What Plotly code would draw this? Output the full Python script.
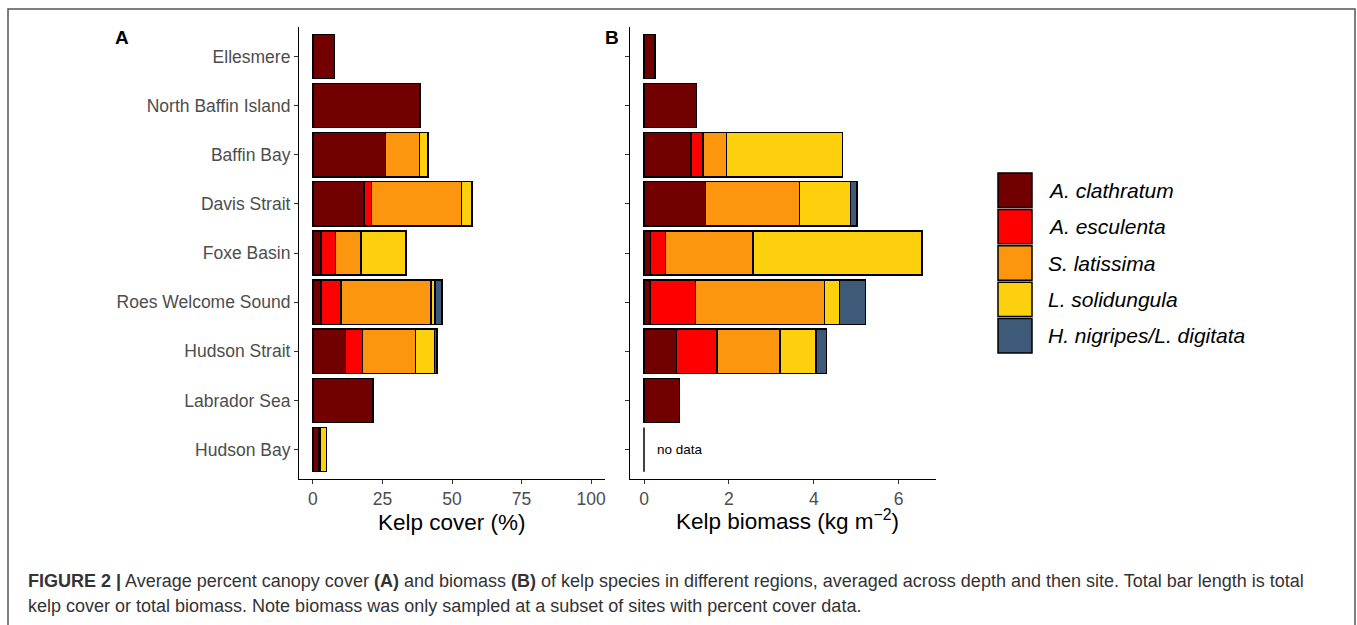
import plotly.graph_objects as go

regions = ["Ellesmere", "North Baffin Island", "Baffin Bay", "Davis Strait", "Foxe Basin",
           "Roes Welcome Sound", "Hudson Strait", "Labrador Sea", "Hudson Bay"]
species = ["A. clathratum", "A. esculenta", "S. latissima", "L. solidungula", "H. nigripes/L. digitata"]
colors = ["#730000", "#FF0000", "#FD960F", "#FDD00D", "#3D5B78"]

# Panel A: percent cover
cover_clathratum = [7.8, 38.5, 26.0, 18.3, 2.9, 2.9, 11.7, 21.6, 2.2]
cover_esculenta = [0, 0, 0, 2.7, 5.3, 7.2, 6.2, 0, 0]
cover_latissima = [0, 0, 12.3, 32.4, 9.1, 32.4, 18.9, 0, 0.4]
cover_solidungula = [0, 0, 3.1, 3.8, 16.2, 1.4, 6.8, 0, 2.2]
cover_digitata = [0, 0, 0, 0, 0, 2.5, 1.0, 0, 0]

# Panel B: biomass (kg m-2); Hudson Bay has no data
bio_clathratum = [0.26, 1.23, 1.11, 1.45, 0.15, 0.14, 0.77, 0.84, None]
bio_esculenta = [0, 0, 0.28, 0, 0.36, 1.08, 0.95, 0, None]
bio_latissima = [0, 0, 0.56, 2.21, 2.06, 3.03, 1.48, 0, None]
bio_solidungula = [0, 0, 2.73, 1.20, 3.98, 0.36, 0.85, 0, None]
bio_digitata = [0, 0, 0, 0.16, 0, 0.61, 0.25, 0, None]

cover = [cover_clathratum, cover_esculenta, cover_latissima, cover_solidungula, cover_digitata]
bio = [bio_clathratum, bio_esculenta, bio_latissima, bio_solidungula, bio_digitata]

W, H = 1357, 625
def px(x):
    return x / W
def py(y):
    return 1 - y / H

FONT = "Liberation Sans, Arial, sans-serif"
ypos = list(range(len(regions)))
BAR_W = 0.9

fig = go.Figure()

def clean(v):
    return [None if (a is None or a == 0) else a for a in v]

for i, sp in enumerate(species):
    fig.add_trace(go.Bar(y=ypos, x=clean(cover[i]), orientation="h", name=sp,
                         marker=dict(color=colors[i], line=dict(color="black", width=1.4)),
                         width=BAR_W, xaxis="x", yaxis="y", showlegend=False))
    fig.add_trace(go.Bar(y=ypos, x=clean(bio[i]), orientation="h", name=sp,
                         marker=dict(color=colors[i], line=dict(color="black", width=1.4)),
                         width=BAR_W, xaxis="x2", yaxis="y2", showlegend=False))

# no-data marker for Hudson Bay (zero-length bar outline)
nd = regions.index("Hudson Bay")
fig.add_trace(go.Scatter(x=[0, 0], y=[nd - BAR_W / 2, nd + BAR_W / 2], mode="lines",
                         line=dict(color="black", width=1.5), xaxis="x2", yaxis="y2",
                         showlegend=False, hoverinfo="skip"))

yrange = [len(regions) - 1 + 0.6, -0.6]
axis_common = dict(showline=True, linecolor="black", linewidth=1.2, ticks="outside",
                   ticklen=4, tickcolor="#333333", tickwidth=1.1, showgrid=False, zeroline=False,
                   tickfont=dict(family=FONT, size=17.5, color="#4D4D4D"))

fig.update_layout(
    width=W, height=H, margin=dict(l=0, r=0, t=0, b=0),
    paper_bgcolor="white", plot_bgcolor="white",
    barmode="stack",
    xaxis=dict(domain=[px(299), px(605)], range=[-5, 105], tickvals=[0, 25, 50, 75, 100],
               anchor="y", **axis_common),
    yaxis=dict(domain=[py(479), py(27)], range=yrange, tickvals=ypos, ticktext=regions,
               anchor="x", **axis_common),
    xaxis2=dict(domain=[px(630), px(936)], range=[-0.33, 6.88], tickvals=[0, 2, 4, 6],
                anchor="y2", **axis_common),
    yaxis2=dict(domain=[py(479), py(27)], range=yrange, tickvals=ypos, showticklabels=False,
                anchor="x2", **axis_common),
)

annotations = [
    dict(text="<b>A</b>", x=px(122), y=py(38), font=dict(family=FONT, size=19, color="black")),
    dict(text="<b>B</b>", x=px(612), y=py(38), font=dict(family=FONT, size=19, color="black")),
    dict(text="Kelp cover (%)", x=px(452), y=py(522), font=dict(family=FONT, size=22.5, color="black")),
    dict(text="Kelp biomass (kg m<sup>\u22122</sup>)", x=px(787), y=py(520),
         font=dict(family=FONT, size=22.5, color="black")),
]
for a in annotations:
    a.update(xref="paper", yref="paper", showarrow=False, xanchor="center", yanchor="middle")
fig.add_annotation(text="no data", x=0.27, y=nd, xref="x2", yref="y2", showarrow=False,
                   xanchor="left", yanchor="middle", font=dict(family=FONT, size=13.5, color="black"))
for a in annotations:
    fig.add_annotation(**a)

# custom legend with large keys
key_top, key_h = 172, 36.4
shapes = []
for i, sp in enumerate(species):
    y0 = key_top + i * key_h
    shapes.append(dict(type="rect", xref="paper", yref="paper", x0=px(998), x1=px(1032),
                       y0=py(y0 + key_h - 1), y1=py(y0 + 1), fillcolor=colors[i],
                       line=dict(color="black", width=1.5)))
    fig.add_annotation(text="<i>" + sp + "</i>", x=px(1046), y=py(y0 + key_h / 2), xref="paper",
                       yref="paper", showarrow=False, xanchor="left", yanchor="middle",
                       font=dict(family=FONT, size=21, color="black"))

# outer frame
shapes.append(dict(type="path", xref="paper", yref="paper",
                   path=f"M {px(8)} {py(H + 5)} L {px(8)} {py(9)} L {px(1355)} {py(9)} L {px(1355)} {py(H + 5)}",
                   line=dict(color="#555555", width=1.5)))
fig.update_layout(shapes=shapes)

caption1 = ("<b>FIGURE 2 |</b> Average percent canopy cover <b>(A)</b> and biomass <b>(B)</b> of kelp species "
            "in different regions, averaged across depth and then site. Total bar length is total")
caption2 = "kelp cover or total biomass. Note biomass was only sampled at a subset of sites with percent cover data."
for txt, yy in [(caption1, 581), (caption2, 606)]:
    fig.add_annotation(text=txt, x=px(26), y=py(yy), xref="paper", yref="paper", showarrow=False,
                       xanchor="left", yanchor="middle", font=dict(family=FONT, size=18, color="#333333"))

fig.write_html("out.html", config={"displayModeBar": False},
               post_script="document.body.style.margin='0px';")
